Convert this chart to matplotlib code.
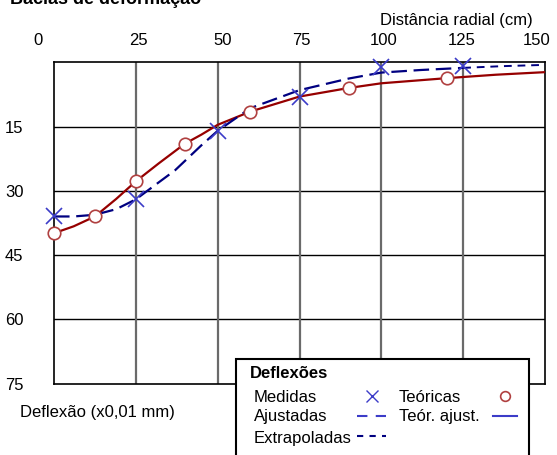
import matplotlib
matplotlib.use("Agg")
import matplotlib.pyplot as plt
import matplotlib.transforms as mtransforms
from matplotlib.patches import Rectangle

plt.rcParams['font.family'] = ['Liberation Sans', 'DejaVu Sans']

# deflexoes medidas (x0,01 mm) por distancia radial (cm)
dist_medidas = [0, 25, 50, 75, 100, 125]
defl_medidas = [36.0, 32.0, 16.1, 8.0, 1.0, 0.9]

# deflexoes teoricas
dist_teoricas = [0, 12.5, 25, 40, 60, 90, 120]
defl_teoricas = [39.9, 36.0, 27.8, 19.0, 11.5, 6.0, 3.7]

# curva teorica ajustada
dist_teor_ajust = [0, 6, 12.5, 19, 25, 32, 40, 45, 50, 60, 75, 90, 100, 120, 135, 150]
defl_teor_ajust = [39.9, 38.3, 36.0, 31.9, 27.8, 23.6, 19.0, 16.9, 14.6, 11.5, 8.0, 6.0, 4.9, 3.7, 2.9, 2.3]

# curva ajustada aos pontos medidos
dist_ajustadas = [0, 6, 12.5, 19, 25, 31, 37, 45, 50, 60, 75, 90, 100, 112, 125]
defl_ajustadas = [36.0, 36.0, 35.6, 34.3, 32.0, 28.6, 25.2, 19.4, 16.0, 10.7, 6.5, 3.8, 2.4, 1.8, 1.3]

# extrapolacao alem do ultimo ponto medido
dist_extrap = [125, 137, 150]
defl_extrap = [1.3, 0.9, 0.6]

xticks = [0, 25, 50, 75, 100, 125, 150]
yticks = [15, 30, 45, 60, 75]

azul = '#000080'
azul_claro = '#3c3cc8'
vermelho = '#960000'
vermelho_claro = '#b04040'

W, H = 557, 455
fig = plt.figure(figsize=(W / 100, H / 100), dpi=100)
ax = fig.add_axes([54 / W, 1 - 383.5 / H, 491 / W, 321.2 / H])

ax.set_xlim(0, 150)
ax.set_ylim(75, 0)
ax.xaxis.tick_top()
ax.set_xticks(xticks)
ax.set_xticklabels([str(t) for t in xticks])
ax.set_yticks(yticks)
ax.set_yticklabels([str(t) for t in yticks])
ax.tick_params(length=0, labelsize=12, pad=10)
ax.tick_params(axis='y', pad=22)
for t in yticks[:-1]:
    ax.axhline(t, color='black', lw=1.0, zorder=1)
for t in xticks[1:-1]:
    ax.axvline(t, color='#6a6a6a', lw=1.6, zorder=1)
for sp in ax.spines.values():
    sp.set_linewidth(1.2)

# ajuste fino das posicoes dos rotulos do eixo x
labs = ax.get_xticklabels()
desloc = [-16, 3, 5, 2, 2, -1, -8]
for lab, d in zip(labs, desloc):
    lab.set_transform(lab.get_transform() + mtransforms.ScaledTranslation(d / 100, 0, fig.dpi_scale_trans))

ax.plot(dist_teor_ajust, defl_teor_ajust, color=vermelho, lw=1.6, zorder=3)
ax.plot(dist_ajustadas, defl_ajustadas, color=azul, lw=1.6, dashes=(7, 3), zorder=4)
ax.plot(dist_extrap, defl_extrap, color=azul, lw=1.4, dashes=(4, 3), zorder=4)
ax.plot(dist_teoricas, defl_teoricas, 'o', ms=9, mfc='white', mec=vermelho_claro, mew=1.2,
        zorder=5, clip_on=False)
ax.plot(dist_medidas, defl_medidas, 'x', ms=11, mec=azul_claro, mew=1.2, zorder=6, clip_on=False)

# camada de textos e legenda em pixels
ov = fig.add_axes([0, 0, 1, 1])
ov.set_xlim(0, W)
ov.set_ylim(H, 0)
ov.axis('off')

ov.text(10, 4, 'Bacias de deformação', fontsize=13, fontweight='bold', va='baseline')
ov.text(533, 21, 'Distância radial (cm)', fontsize=12, ha='right', va='center')
ov.text(20, 413, 'Deflexão (x0,01 mm)', fontsize=12, va='center')

ov.add_patch(Rectangle((236, 359), 293, 110, facecolor='white', edgecolor='black', lw=1.5, zorder=10))
ov.text(250, 374, 'Deflexões', fontsize=12, fontweight='bold', va='center', zorder=11)
ov.text(254, 397, 'Medidas', fontsize=12, va='center', zorder=11)
ov.text(399, 397, 'Teóricas', fontsize=12, va='center', zorder=11)
ov.text(254, 417, 'Ajustadas', fontsize=12, va='center', zorder=11)
ov.text(399, 417, 'Teór. ajust.', fontsize=12, va='center', zorder=11)
ov.text(254, 438, 'Extrapoladas', fontsize=12, va='center', zorder=11)
ov.plot([372], [396], 'x', ms=8, mec=azul_claro, mew=1.0, zorder=11)
ov.plot([505], [396], 'o', ms=7, mfc='white', mec=vermelho_claro, mew=1.2, zorder=11)
ov.plot([357, 386], [416, 416], color=azul_claro, lw=1.5, dashes=(5, 4), zorder=11)
ov.plot([493, 517], [416, 416], color=azul_claro, lw=1.5, zorder=11)
ov.plot([357, 386], [436, 436], color=azul, lw=1.5, dashes=(3, 3), zorder=11)

fig.savefig('out.png', dpi=100)
